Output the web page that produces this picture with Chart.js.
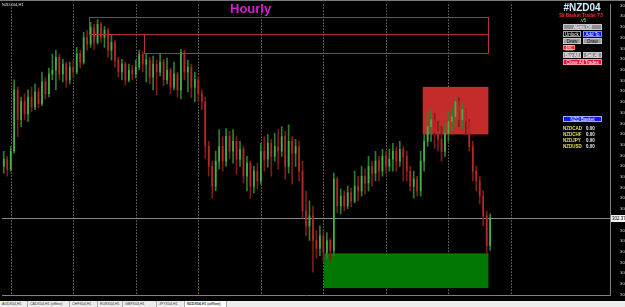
<!DOCTYPE html>
<html lang="en">
<head>
<meta charset="UTF-8">
<title>NZDX04,H1</title>
<script src="https://cdn.jsdelivr.net/npm/chart.js"></script>
<style>
  html, body { margin: 0; padding: 0; background: #000; }
  body { width: 625px; height: 307px; position: relative; overflow: hidden; font-family: Arial, "Liberation Sans", sans-serif; }
  #wrap { position: absolute; left: 0; top: 0; width: 625px; height: 301px; }
  .abs { position: absolute; white-space: nowrap; }
  .btn { position: absolute; box-sizing: border-box; text-align: center; font-size: 4.5px; line-height: 5px; border: 1px solid #c8c8c8; }
  #topline { position: absolute; left: 0; top: 0; width: 625px; height: 1px; background: #7a7a7a; }
  #tabs { position: absolute; left: 0; top: 301px; width: 625px; height: 6px; background: #ececec; font-size: 3.6px; line-height: 6px; color: #333; }
  .tab { position: absolute; top: 0; height: 6px; box-sizing: border-box; border-right: 1px solid #a8a8a8; padding-left: 2px; }
</style>
</head>
<body>
<div id="wrap"><canvas id="chart"></canvas></div>
<div id="topline"></div>

<div class="abs" style="left:2px;top:2px;font-size:4px;color:#e0e0e0;">NZDX04,H1</div>
<div class="abs" style="left:230px;top:2px;font-size:13px;line-height:13px;font-weight:bold;color:#d21fd2;">Hourly</div>

<div class="abs" style="left:556px;width:52px;top:3px;text-align:center;font-size:10px;line-height:10px;font-weight:bold;color:#d8ecff;">#NZD04</div>
<div class="abs" style="left:550px;width:62px;top:13px;text-align:center;font-size:4.6px;line-height:5px;font-weight:bold;color:#ff2a2a;">$9 Basket Trader T3</div>
<div class="abs" style="left:570px;width:26px;top:18px;text-align:center;font-size:4.5px;line-height:5px;color:#b8e04a;">.v5</div>

<div class="btn" style="left:563px;top:24px;width:39px;height:6px;background:#8e8e8e;color:#fff;">Alerts Off</div>
<div class="btn" style="left:563px;top:31px;width:18px;height:6px;background:#000;color:#fff;border-color:#a0a0a0;">Unlock</div>
<div class="btn" style="left:583px;top:31px;width:19px;height:6px;background:#0a14f0;color:#fff;border-color:#8090ff;">Add To</div>
<div class="btn" style="left:563px;top:38px;width:18px;height:6px;background:#9a9a9a;color:#111;">Draw TP</div>
<div class="btn" style="left:583px;top:38px;width:19px;height:6px;background:#9a9a9a;color:#111;">Draw SL</div>
<div class="btn" style="left:563px;top:45px;width:12px;height:5px;background:#e82828;color:#fff;border-color:#ff8080;font-size:3.5px;line-height:3px;">SUP 20%</div>
<div class="btn" style="left:563px;top:52px;width:18px;height:6px;background:#8e8e8e;color:#fff;">Buy All</div>
<div class="btn" style="left:583px;top:52px;width:19px;height:6px;background:#8e8e8e;color:#fff;">Sell All</div>
<div class="btn" style="left:563px;top:59px;width:39px;height:6px;background:#e8103a;color:#fff;border-color:#ff90a0;">Close All Trades</div>

<div class="btn" style="left:563px;top:116px;width:39px;height:6px;background:#1414ff;color:#fff;border-color:#a0a8ff;">NZD Basket</div>
<div id="pairs"></div>

<div id="tabs"></div>

<script>
// chart values
const firstOpen = 303.67;
const closes = [303.85,303.60,304.05,305.60,304.85,305.30,305.00,305.42,305.17,305.55,
  305.25,305.80,305.50,306.00,306.10,306.42,306.00,306.25,305.85,306.17,
  306.05,306.50,306.30,306.92,306.75,307.17,306.80,307.25,306.92,307.10,
  306.60,306.80,306.35,306.05,306.25,305.85,306.10,306.00,306.17,306.50,
  306.25,306.35,305.92,306.25,306.05,306.30,305.85,306.10,305.67,306.00,
  305.60,306.55,306.05,306.17,305.67,305.85,305.50,305.30,304.17,303.67,
  303.17,303.80,304.17,303.80,304.42,304.05,304.30,303.85,304.10,303.42,
  303.75,303.17,303.55,303.30,304.05,303.85,304.25,303.92,304.17,304.05,
  304.42,303.67,304.30,304.00,304.17,303.55,302.55,302.17,302.42,301.80,
  301.60,301.92,301.50,301.80,301.55,303.35,302.67,302.92,302.67,303.00,
  302.80,303.17,303.05,303.42,303.25,303.67,303.50,303.80,303.55,303.92,
  303.67,303.85,304.05,303.80,304.10,303.92,303.55,303.17,303.35,303.05,
  303.80,304.30,304.67,304.85,304.55,304.35,304.05,304.50,304.80,304.92,
  305.30,304.85,305.10,304.80,304.17,303.55,303.30,302.92,302.42,301.67,
  302.375];
const highs = [304.05,303.92,304.17,305.85,305.67,305.42,305.50,305.60,305.67,305.75,
  305.65,306.05,305.90,306.15,306.50,306.60,306.50,306.37,306.30,306.30,
  306.35,306.67,306.60,307.05,307.10,307.30,307.25,307.37,307.30,307.20,
  307.15,307.00,306.85,306.42,306.37,306.30,306.25,306.22,306.35,306.60,
  306.55,306.50,306.42,306.45,306.35,306.50,306.37,306.40,306.15,306.30,
  306.05,306.62,306.60,306.35,306.25,306.05,305.92,305.60,305.42,304.30,
  303.80,304.05,304.60,304.42,304.62,304.55,304.60,304.42,304.30,304.17,
  303.92,303.80,303.67,303.75,304.25,304.42,304.47,304.35,304.50,304.60,
  304.67,304.55,304.72,304.42,304.35,304.30,303.80,303.05,302.80,302.67,
  302.05,302.17,302.05,302.00,301.85,303.50,303.40,303.10,303.05,303.17,
  303.12,303.55,303.42,303.67,303.60,303.92,303.80,304.05,303.92,304.10,
  304.05,304.10,304.25,304.17,304.30,304.17,304.05,303.67,303.55,303.42,
  304.05,304.47,305.05,305.10,305.00,304.80,304.67,304.75,305.05,305.17,
  305.42,305.40,305.25,305.12,304.85,304.30,303.67,303.42,303.05,302.55,
  302.47];
const lows = [303.50,303.42,303.55,304.00,304.42,304.67,304.85,304.80,305.05,305.10,
  305.15,305.20,305.37,305.42,305.85,305.60,305.85,305.80,305.67,305.75,
  305.92,306.00,306.15,306.25,306.60,306.67,306.62,306.75,306.80,306.67,
  306.42,306.35,306.17,305.92,305.85,305.72,305.80,305.85,305.90,306.10,
  306.05,305.80,305.75,305.60,305.47,305.95,305.70,305.75,305.50,305.60,
  305.42,305.37,305.85,305.55,305.40,305.30,305.30,305.10,303.87,303.42,
  302.87,303.05,303.60,303.55,303.67,303.85,303.75,303.47,303.67,303.25,
  303.05,302.87,303.00,303.10,303.22,303.55,303.65,303.42,303.80,303.60,
  303.92,303.35,303.50,303.22,303.67,303.30,302.37,301.92,301.80,301.00,
  301.35,301.42,301.25,301.35,301.30,301.42,302.50,302.47,302.55,302.60,
  302.65,302.75,302.80,302.92,302.97,303.05,303.17,303.30,303.30,303.42,
  303.50,303.55,303.55,303.55,303.67,303.30,303.30,303.05,302.87,302.92,
  302.92,303.55,304.17,304.30,304.12,304.05,303.80,303.92,304.30,304.55,
  304.67,304.67,304.60,304.47,304.05,303.30,303.05,302.72,302.17,301.47,
  301.55];

const bidPrice = 302.375;
const priceTicks = [307.725,307.455,307.185,306.915,306.645,306.375,306.105,305.835,
  305.565,305.295,305.025,304.755,304.485,304.215,303.945,303.675,303.405,303.135,
  302.865,302.595,302.325,302.055,301.785,301.515,301.245,300.975,300.705,300.435];
const timeLabels = ['4 Dec 2018','4 Dec 09:00','4 Dec 15:00','4 Dec 21:00','5 Dec 03:00',
  '5 Dec 09:00','5 Dec 15:00','5 Dec 21:00','6 Dec 03:00','6 Dec 09:00','6 Dec 15:00',
  '6 Dec 21:00','7 Dec 03:00','7 Dec 09:00','7 Dec 15:00','7 Dec 21:00','10 Dec 03:00',
  '10 Dec 09:00','10 Dec 15:00','10 Dec 21:00','11 Dec 03:00','11 Dec 09:00',
  '11 Dec 15:00','11 Dec 21:00',''];
const firstTickBar = 2;
const barsPerTick = 6;

// drawn objects: bar index range + price range
const filledZones = [
  { from: 120.6, to: 139.5, top: 305.675, bottom: 304.475, color: '#c42b2b' },
  { from: 92.2, to: 139.5, top: 301.475, bottom: 300.60, color: '#007800' }
];
const outlineZones = [
  { from: 24.5, to: 139.5, top: 307.425, bottom: 307.00 },
  { from: 40.5, to: 139.5, top: 307.00, bottom: 306.525 }
];

const basketPairs = ['NZDCAD', 'NZDCHF', 'NZDJPY', 'NZDUSD'];
const pairValues = ['0.00', '0.00', '0.00', '0.00'];
const tabNames = ['AUDX04,H1', 'CADX04,H1 (offline)', 'CHFX04,H1', 'EURX04,H1', 'GBPX04,H1 (offline)', 'JPYX04,H1', 'NZDX04,H1 (offline)'];
const tabWidths = [28, 42, 28, 25, 34, 28, 42];

// side panel rows
const pairsEl = document.getElementById('pairs');
basketPairs.forEach((p, i) => {
  const t = 126 + i * 6;
  pairsEl.insertAdjacentHTML('beforeend',
    `<div class="abs" style="left:563px;top:${t}px;font-size:4.5px;line-height:5px;font-weight:bold;color:#e6e05a;">${p}</div>` +
    `<div class="abs" style="left:586px;top:${t}px;font-size:4.5px;line-height:5px;font-weight:bold;color:#f0f0f0;">${pairValues[i]}</div>`);
});
const tabsEl = document.getElementById('tabs');
let tx = 0;
tabNames.forEach((n, i) => {
  const active = i === tabNames.length - 1;
  tabsEl.insertAdjacentHTML('beforeend',
    `<div class="tab" style="left:${tx}px;width:${tabWidths[i]}px;${active ? 'background:#fff;font-weight:bold;' : ''}">${n}</div>`);
  tx += tabWidths[i];
});

// candle tables
const opens = closes.map((c, i) => i === 0 ? firstOpen : closes[i - 1]);
const isUp = closes.map((c, i) => c >= opens[i]);
const bodyColors = isUp.map(u => u ? '#48b048' : '#b42828');
const wickColors = isUp.map(u => u ? '#2f7f2f' : '#7e1c1c');
const wickData = closes.map((c, i) => ({ x: i, y: [Math.min(lows[i], opens[i], c), Math.max(highs[i], opens[i], c)] }));
const bodyData = closes.map((c, i) => ({ x: i, y: [opens[i], c] }));

const overlay = {
  id: 'overlay',
  beforeDatasetsDraw(chart) {
    const { ctx, chartArea: a, scales: { x, y } } = chart;
    ctx.save();
    // vertical dotted grid (every third time tick)
    ctx.strokeStyle = '#a8a8a8';
    ctx.lineWidth = 1;
    ctx.setLineDash([1, 2]);
    for (let k = 0; k < timeLabels.length; k += 3) {
      const px = Math.round(x.getPixelForValue(firstTickBar + k * barsPerTick)) + 0.5;
      ctx.beginPath(); ctx.moveTo(px, a.top); ctx.lineTo(px, a.bottom); ctx.stroke();
    }
    ctx.setLineDash([]);
    filledZones.forEach(z => {
      const x1 = x.getPixelForValue(z.from), x2 = x.getPixelForValue(z.to);
      const y1 = y.getPixelForValue(z.top), y2 = y.getPixelForValue(z.bottom);
      ctx.fillStyle = z.color;
      ctx.fillRect(x1, y1, x2 - x1, y2 - y1);
    });
    const by = Math.round(y.getPixelForValue(bidPrice)) + 0.5;
    ctx.strokeStyle = '#8a8a8a';
    ctx.beginPath(); ctx.moveTo(a.left, by); ctx.lineTo(a.right, by); ctx.stroke();
    ctx.restore();
  },
  afterDatasetsDraw(chart) {
    const { ctx, scales: { x, y } } = chart;
    ctx.save();
    ctx.strokeStyle = '#b3303a';
    ctx.lineWidth = 1;
    outlineZones.forEach(z => {
      const x1 = Math.round(x.getPixelForValue(z.from)) + 0.5, x2 = Math.round(x.getPixelForValue(z.to)) + 0.5;
      const y1 = Math.round(y.getPixelForValue(z.top)) + 0.5, y2 = Math.round(y.getPixelForValue(z.bottom)) + 0.5;
      ctx.strokeRect(x1, y1, x2 - x1, y2 - y1);
    });
    ctx.restore();
  },
  afterDraw(chart) {
    // bid price marker on the price axis
    const { ctx, chartArea: a, scales: { y } } = chart;
    const by = Math.round(y.getPixelForValue(bidPrice));
    ctx.save();
    ctx.fillStyle = '#f4f4f4';
    ctx.fillRect(a.right + 1, by - 3, 14, 7);
    ctx.fillStyle = '#000';
    ctx.font = '4.5px Arial';
    ctx.textBaseline = 'middle';
    ctx.fillText(bidPrice.toFixed(3), a.right + 2, by + 0.5);
    ctx.restore();
  }
};

new Chart(document.getElementById('chart'), {
  type: 'bar',
  data: {
    datasets: [
      { data: wickData, backgroundColor: wickColors, barThickness: 1, grouped: false, order: 2 },
      { data: bodyData, backgroundColor: bodyColors, barThickness: 1, grouped: false, minBarLength: 1, order: 1 }
    ]
  },
  options: {
    responsive: true,
    maintainAspectRatio: false,
    animation: false,
    events: [],
    layout: { autoPadding: false, padding: { top: 2, left: 0, right: 0, bottom: 0 } },
    plugins: { legend: { display: false }, tooltip: { enabled: false } },
    scales: {
      x: {
        type: 'linear',
        offset: false,
        min: -0.5,
        max: 174.5,
        afterBuildTicks: s => { s.ticks = timeLabels.map((_, k) => ({ value: firstTickBar + k * barsPerTick })); },
        afterFit: s => { s.height = 6; },
        grid: { display: false, offset: false },
        border: { color: '#808080' },
        ticks: {
          autoSkip: false, maxRotation: 0, minRotation: 0, padding: 1,
          color: '#d0d0d0', font: { size: 3.8, family: 'Arial' },
          callback: (v, i) => timeLabels[i]
        }
      },
      y: {
        type: 'linear',
        position: 'right',
        min: 300.425,
        max: 307.75,
        afterBuildTicks: s => { s.ticks = priceTicks.map(v => ({ value: v })); },
        afterFit: s => { s.width = 15; },
        grid: { display: false },
        border: { color: '#808080' },
        ticks: {
          padding: 2, color: '#d0d0d0', font: { size: 4.3, family: 'Arial' },
          callback: v => v.toFixed(3)
        }
      }
    }
  },
  plugins: [overlay]
});
</script>
</body>
</html>
